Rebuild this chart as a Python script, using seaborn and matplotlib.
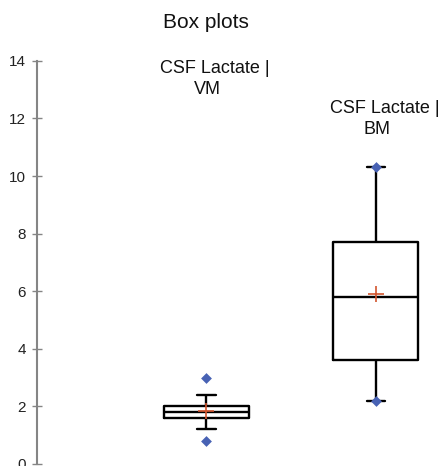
import pandas as pd
import matplotlib.pyplot as plt
import seaborn as sns

# data
groups = ['VM', 'BM']
vm_values = [0.8, 1.2, 1.6, 1.7, 1.8, 1.95, 2.0, 2.4, 3.0]
bm_values = [2.2, 3.6, 5.8, 7.7, 10.3]
y_ticks = [0, 2, 4, 6, 8, 10, 12, 14]

df = pd.DataFrame({
    'group': ['VM'] * len(vm_values) + ['BM'] * len(bm_values),
    'value': vm_values + bm_values,
})

sns.set_style('white')
plt.rcParams['font.family'] = ['Liberation Sans', 'DejaVu Sans']

fig = plt.figure(figsize=(4.42, 4.66), dpi=100)
ax = fig.add_axes([0.0826, 0.0043, 0.9174, 0.8652])

sns.boxplot(data=df, x='group', y='value', order=groups, width=0.5, whis=1.5,
            fill=False, color='black', linewidth=1.7, showfliers=False,
            showmeans=True, capwidths=0.11,
            meanprops=dict(marker='+', markeredgecolor='#d2552e',
                           markersize=11, markeredgewidth=1.2),
            ax=ax)

# min / max as blue diamonds
extremes = (df.groupby('group')['value'].agg(['min', 'max']).reset_index()
            .melt(id_vars='group', value_name='value'))
sns.stripplot(data=extremes, x='group', y='value', order=groups, jitter=False,
              marker='D', size=5.5, color='#4862b4', linewidth=0, zorder=5, ax=ax)

ax.set_ylim(0, 14)
ax.set_xlim(-1.0, 1.39)
ax.set_yticks(y_ticks)
ax.set_xticks([])
ax.set_xlabel('')
ax.set_ylabel('')
for s in ['top', 'right', 'bottom']:
    ax.spines[s].set_visible(False)
ax.spines['left'].set_color('#858585')
ax.spines['left'].set_linewidth(1.5)
ax.tick_params(axis='y', left=True, direction='inout', length=7, width=1,
               color='#858585', labelsize=11, labelcolor='#222222', pad=4)

# category labels above the boxes
label_y = {'VM': (13.58, 12.85), 'BM': (12.19, 11.46)}
for i, g in enumerate(groups):
    y1, y2 = label_y[g]
    ax.annotate('CSF Lactate |', xy=(i, y1), xytext=(-33, 0), textcoords='offset points',
                ha='left', va='baseline', fontsize=13, color='#111111')
    ax.annotate(g, xy=(i, y2), xytext=(-9, 0), textcoords='offset points',
                ha='left', va='baseline', fontsize=13, color='#111111')

fig.text(206 / 442, 0.94, 'Box plots', ha='center', va='baseline', fontsize=15, color='#111111')

fig.savefig('out.png', dpi=100)
